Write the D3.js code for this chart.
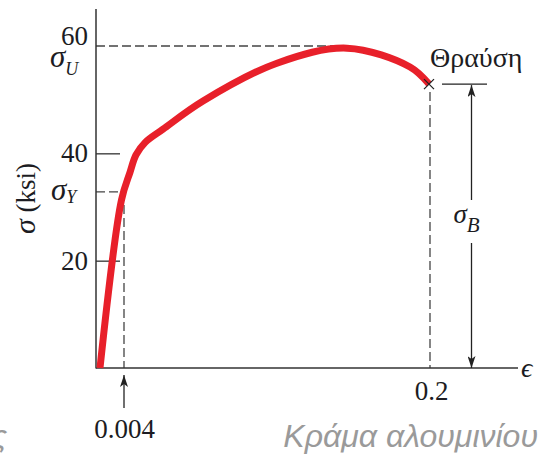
<!DOCTYPE html>
<html>
<head>
<meta charset="utf-8">
<script src="https://cdn.jsdelivr.net/npm/d3@7"></script>
<style>
  body { margin: 0; background: #fff; }
  text { font-family: "Liberation Serif", "Times New Roman", serif; fill: #1c1c22; }
  text.caption { font-family: "Liberation Sans", Arial, sans-serif; font-style: italic; fill: #9a9a9a; }
</style>
</head>
<body>
<svg id="chart" width="543" height="458"></svg>
<script>
// Stress–strain curve of an aluminium alloy (σ in ksi, ε dimensionless)
const strain = [0, 0.00358, 0.0079, 0.0117, 0.0175, 0.0291, 0.0548, 0.1023, 0.1473, 0.1878, 0.2];
const stress = [0, 31.3, 36.5, 39.7, 42.0, 44.5, 49.75, 56.8, 59.6, 56.1, 52.9];

const stressTicks = [20, 40, 60];
const strainTicks = [0.004, 0.2];

const yieldStrain = 0.004;
const yieldStress = 32.8;
const ultimateStress = 60;
const ultimateStrain = 0.1473;
const fractureStrain = 0.2;
const fractureStress = 52.9;

const svg = d3.select("#chart");

// Strain axis is drawn stretched near the origin so the elastic region is visible
const x = d3.scaleLinear().domain([0, 0.004, 0.2]).range([100, 124, 429]);
const y = d3.scaleLinear().domain([0, 60]).range([368, 46]);

const axisX0 = 96, axisTop = 9, axisRight = 518;
const ink = "#333";

// arrow heads
const defs = svg.append("defs");
defs.append("marker").attr("id", "arrowEnd")
  .attr("viewBox", "0 0 12 8").attr("refX", 12).attr("refY", 4)
  .attr("markerWidth", 12).attr("markerHeight", 8).attr("markerUnits", "userSpaceOnUse")
  .attr("orient", "auto")
  .append("path").attr("d", "M0,0 L12,4 L0,8 L3,4 Z").attr("fill", "#222");

// Dashed guide lines
const dash = "9,4";
function guide(x1, y1, x2, y2) {
  svg.append("line")
    .attr("x1", x1).attr("y1", y1).attr("x2", x2).attr("y2", y2)
    .attr("stroke", "#444").attr("stroke-width", 1.3).attr("stroke-dasharray", dash);
}
guide(axisX0, y(ultimateStress), x(ultimateStrain), y(ultimateStress));
guide(axisX0, y(yieldStress), x(yieldStrain), y(yieldStress));
guide(x(yieldStrain), y(yieldStress), x(yieldStrain), y(0));
guide(x(fractureStrain) + 1, y(fractureStress) + 8, x(fractureStrain) + 1, y(0));

// Y axis with inward ticks
const yAxis = svg.append("g")
  .attr("transform", `translate(${axisX0},0)`)
  .call(d3.axisLeft(y).tickValues(stressTicks).tickSizeInner(-24).tickSizeOuter(0).tickPadding(8).tickFormat(d3.format("d")));
yAxis.select(".domain").remove();
yAxis.selectAll(".tick line").attr("stroke", ink).attr("stroke-width", 1.3);
yAxis.selectAll(".tick text").attr("font-size", 27);
yAxis.selectAll(".tick").filter(d => d === 60).select("line").remove();
yAxis.selectAll(".tick").filter(d => d === 60).select("text").attr("y", -10);

svg.append("line").attr("x1", axisX0).attr("x2", axisX0)
  .attr("y1", axisTop).attr("y2", y(0) + 0.5)
  .attr("stroke", ink).attr("stroke-width", 1.5);

// X axis
const xAxis = svg.append("g")
  .attr("transform", `translate(0,${y(0)})`)
  .call(d3.axisBottom(x).tickValues(strainTicks).tickSize(0).tickPadding(13)
    .tickFormat(d => d === 0.2 ? "0.2" : "0.004"));
xAxis.select(".domain").remove();
xAxis.selectAll(".tick text").attr("font-size", 27);
xAxis.selectAll(".tick").filter(d => d === 0.004).select("text").attr("y", 51);
xAxis.selectAll(".tick").filter(d => d === 0.2).select("text").attr("dx", 2);

svg.append("line").attr("x1", axisX0).attr("x2", axisRight)
  .attr("y1", y(0)).attr("y2", y(0))
  .attr("stroke", ink).attr("stroke-width", 1.5);

// arrow pointing to ε = 0.004
svg.append("line")
  .attr("x1", x(yieldStrain)).attr("x2", x(yieldStrain))
  .attr("y1", y(0) + 40).attr("y2", y(0) + 7)
  .attr("stroke", "#222").attr("stroke-width", 1.3).attr("marker-end", "url(#arrowEnd)");

// Stress–strain curve
const line = d3.line()
  .x((d, i) => x(strain[i]))
  .y((d, i) => y(stress[i]))
  .curve(d3.curveCatmullRom.alpha(0.5));
svg.append("path")
  .attr("d", line(strain))
  .attr("fill", "none")
  .attr("stroke", "#e8202a")
  .attr("stroke-width", 7)
  .attr("stroke-linecap", "butt");

// fracture mark
const fx = x(fractureStrain), fy = y(fractureStress);
svg.append("path")
  .attr("d", `M${fx - 5},${fy - 5}L${fx + 5},${fy + 5}M${fx - 5},${fy + 5}L${fx + 5},${fy - 5}`)
  .attr("stroke", "#222").attr("stroke-width", 1.3);

// σ_B dimension
const bx = fx + 42.5;
svg.append("line").attr("x1", fx + 13).attr("x2", fx + 58)
  .attr("y1", fy).attr("y2", fy).attr("stroke", "#222").attr("stroke-width", 1.3);
svg.append("line").attr("x1", bx).attr("x2", bx)
  .attr("y1", 200).attr("y2", fy + 1)
  .attr("stroke", "#222").attr("stroke-width", 1.3).attr("marker-end", "url(#arrowEnd)");
svg.append("line").attr("x1", bx).attr("x2", bx)
  .attr("y1", 243).attr("y2", y(0))
  .attr("stroke", "#222").attr("stroke-width", 1.3).attr("marker-end", "url(#arrowEnd)");

const sB = svg.append("text").attr("x", bx - 18).attr("y", 223).attr("font-style", "italic");
sB.append("tspan").attr("font-size", 27).text("σ");
sB.append("tspan").attr("font-size", 21).attr("dy", 9).text("B");

// σ_U and σ_Y labels on the stress axis
const sU = svg.append("text").attr("x", 50).attr("y", 67).attr("font-style", "italic");
sU.append("tspan").attr("font-size", 31).text("σ");
sU.append("tspan").attr("font-size", 18).attr("dy", 8).text("U");

const sY = svg.append("text").attr("x", 51).attr("y", y(yieldStress) + 8).attr("font-style", "italic");
sY.append("tspan").attr("font-size", 31).text("σ");
sY.append("tspan").attr("font-size", 18).attr("dy", 3).text("Y");

// fracture label
svg.append("text").attr("x", 430).attr("y", 67).attr("font-size", 28).text("Θραύση");

// strain symbol
svg.append("text").attr("x", 521).attr("y", 377).attr("font-size", 28)
  .attr("font-style", "italic").text("ϵ");

// stress axis title
const yt = svg.append("text")
  .attr("transform", "translate(35,234) rotate(-90)");
yt.append("tspan").attr("font-size", 30).attr("font-style", "italic").text("σ");
yt.append("tspan").attr("font-size", 27).text(" (ksi)");

// caption
svg.append("text").attr("class", "caption").attr("x", 538).attr("y", 447)
  .attr("text-anchor", "end").attr("font-size", 32).text("Κράμα αλουμινίου");
svg.append("text").attr("class", "caption").attr("x", 7).attr("y", 447)
  .attr("text-anchor", "end").attr("font-size", 32).text("ς");
</script>
</body>
</html>
